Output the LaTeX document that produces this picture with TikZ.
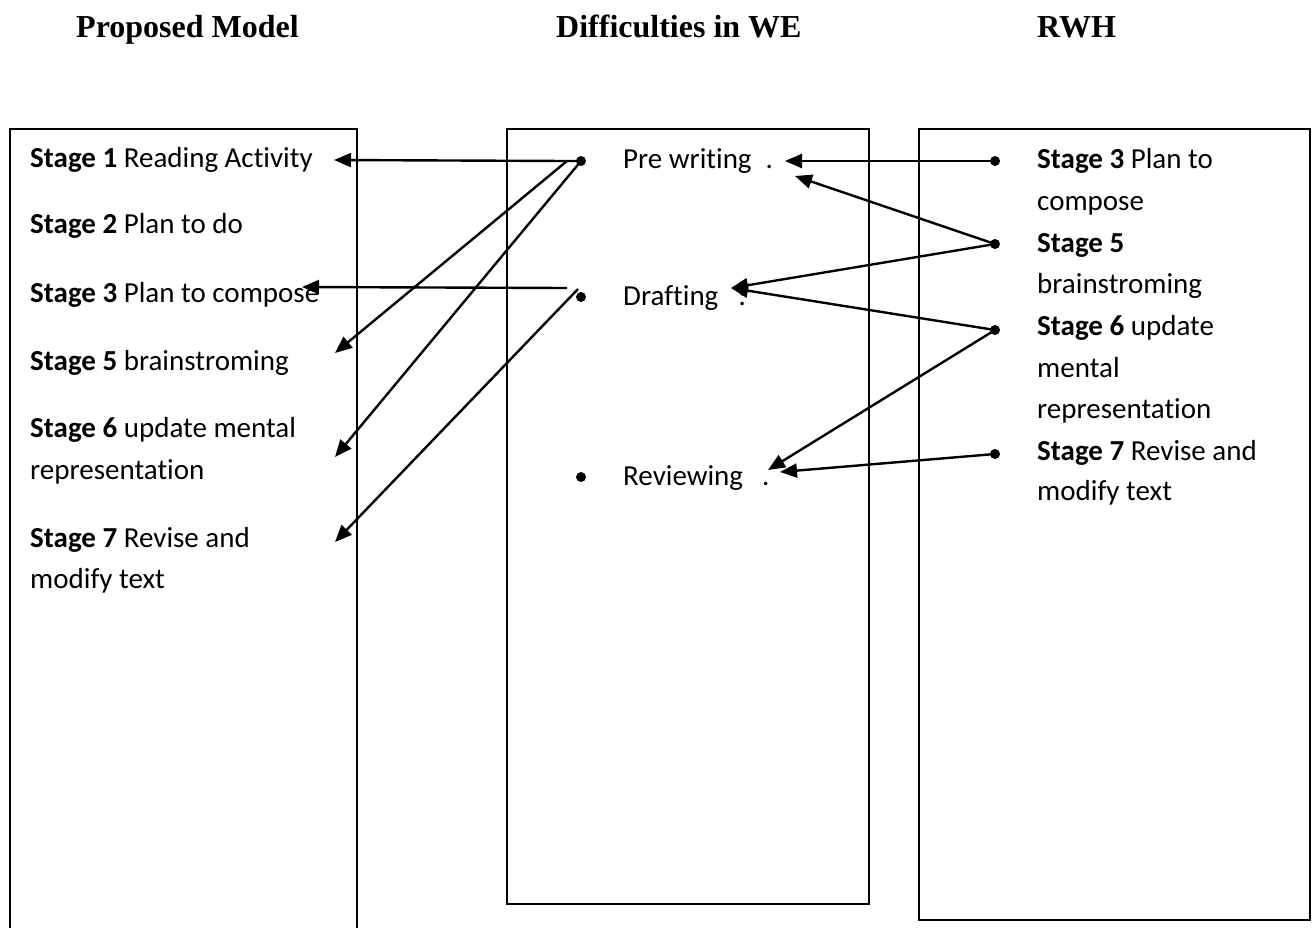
\documentclass[tikz,border=0pt]{standalone}
\usepackage{fontspec}
\setmainfont[RawFeature={-liga;-clig;-calt;-dlig}]{Carlito}
\newfontfamily\titlefont{Liberation Serif}
\usetikzlibrary{arrows.meta}
\tikzset{
  ttl/.style={anchor=base west,inner sep=0pt,font=\titlefont\bfseries\fontsize{32}{38}\selectfont},
  txt/.style={anchor=base west,inner sep=0pt,font=\fontsize{29}{42}\selectfont},
  panel/.style={draw,line width=1.5pt},
  dotb/.style={circle,fill,inner sep=0pt,minimum size=10pt},
  arr/.style={line width=2.4pt,-{Triangle[length=17pt,width=14pt]}},
}
\begin{document}
\begin{tikzpicture}[x=1pt,y=-1pt]
\useasboundingbox (0,0) rectangle (1316,927);
\clip (0,0) rectangle (1316,927);
% titles
\node[ttl] (t1) at (76,37) {Proposed Model};
\node[ttl] (t2) at (556,37) {Difficulties in WE};
\node[ttl] (t3) at (1037,37) {RWH};
% panels
\draw[panel] (10,940) -- (10,129) -- (357,129) -- (357,940);
\draw[panel] (507,129) rectangle (869,904);
\draw[panel] (919,129) rectangle (1310,920);
% left texts
\node[txt] (l1) at (30,167) {\textbf{Stage 1} Reading Activity};
\node[txt] (l2) at (30,233) {\textbf{Stage 2} Plan to do};
\node[txt] (l3) at (30,302) {\textbf{Stage 3} Plan to compose};
\node[txt] (l5) at (30,370) {\textbf{Stage 5} brainstroming};
\node[txt] (l6) at (30,437) {\textbf{Stage 6} update mental};
\node[txt] (l6b) at (30,479) {representation};
\node[txt] (l7) at (30,547) {\textbf{Stage 7} Revise and};
\node[txt] (l7b) at (30,588) {modify text};
% middle texts
\node[dotb] (m1) at (581,161) {};
\node[dotb] (m2) at (581,297) {};
\node[dotb] (m3) at (581,477) {};
\node[txt] (pw) at (623,168) {Pre writing\hspace{14pt}.};
\node[txt] (dr) at (623,305) {Drafting\hspace{20pt}:};
\node[txt] (rv) at (623,485) {Reviewing\hspace{19pt}.};
% right texts
\node[dotb] (r3) at (995,161) {};
\node[dotb] (r5) at (995,244) {};
\node[dotb] (r6) at (995,330) {};
\node[dotb] (r7) at (995,454) {};
\node[txt] (s3) at (1037,168) {\textbf{Stage 3} Plan to};
\node[txt] (s3b) at (1037,210) {compose};
\node[txt] (s5) at (1037,252) {\textbf{Stage 5}};
\node[txt] (s5b) at (1037,293) {brainstroming};
\node[txt] (s6) at (1037,335) {\textbf{Stage 6} update};
\node[txt] (s6b) at (1037,377) {mental};
\node[txt] (s6c) at (1037,418) {representation};
\node[txt] (s7) at (1037,460) {\textbf{Stage 7} Revise and};
\node[txt] (s7b) at (1037,500) {modify text};
% connector points
\coordinate (a0) at (567,161);
\coordinate (b0) at (567,288);
\coordinate (c0) at (578,289);
\coordinate (tl1) at (334,160);
\coordinate (tl3) at (302,287);
\coordinate (tl5) at (335,353);
\coordinate (tl6) at (335,457);
\coordinate (tl7) at (335,542);
\coordinate (tpw1) at (785,161);
\coordinate (tpw2) at (795,176);
\coordinate (tdr) at (731,288);
\coordinate (trv1) at (768,470);
\coordinate (trv2) at (780,472);
% left-going arrows
\draw[arr] (m1.center) -- (a0) -- (tl1);
\draw[arr] (a0) -- (tl5);
\draw[arr] (m1.center) -- (tl6);
\draw[arr] (b0) -- (tl3);
\draw[arr] (c0) -- (tl7);
% right-side arrows
\draw[arr] (r3.center) -- (tpw1);
\draw[arr] (r5.center) -- (tpw2);
\draw[arr] (r5.center) -- (tdr);
\draw[arr] (r6.center) -- (tdr);
\draw[arr] (r6.center) -- (trv1);
\draw[arr] (r7.center) -- (trv2);
\end{tikzpicture}
\end{document}
